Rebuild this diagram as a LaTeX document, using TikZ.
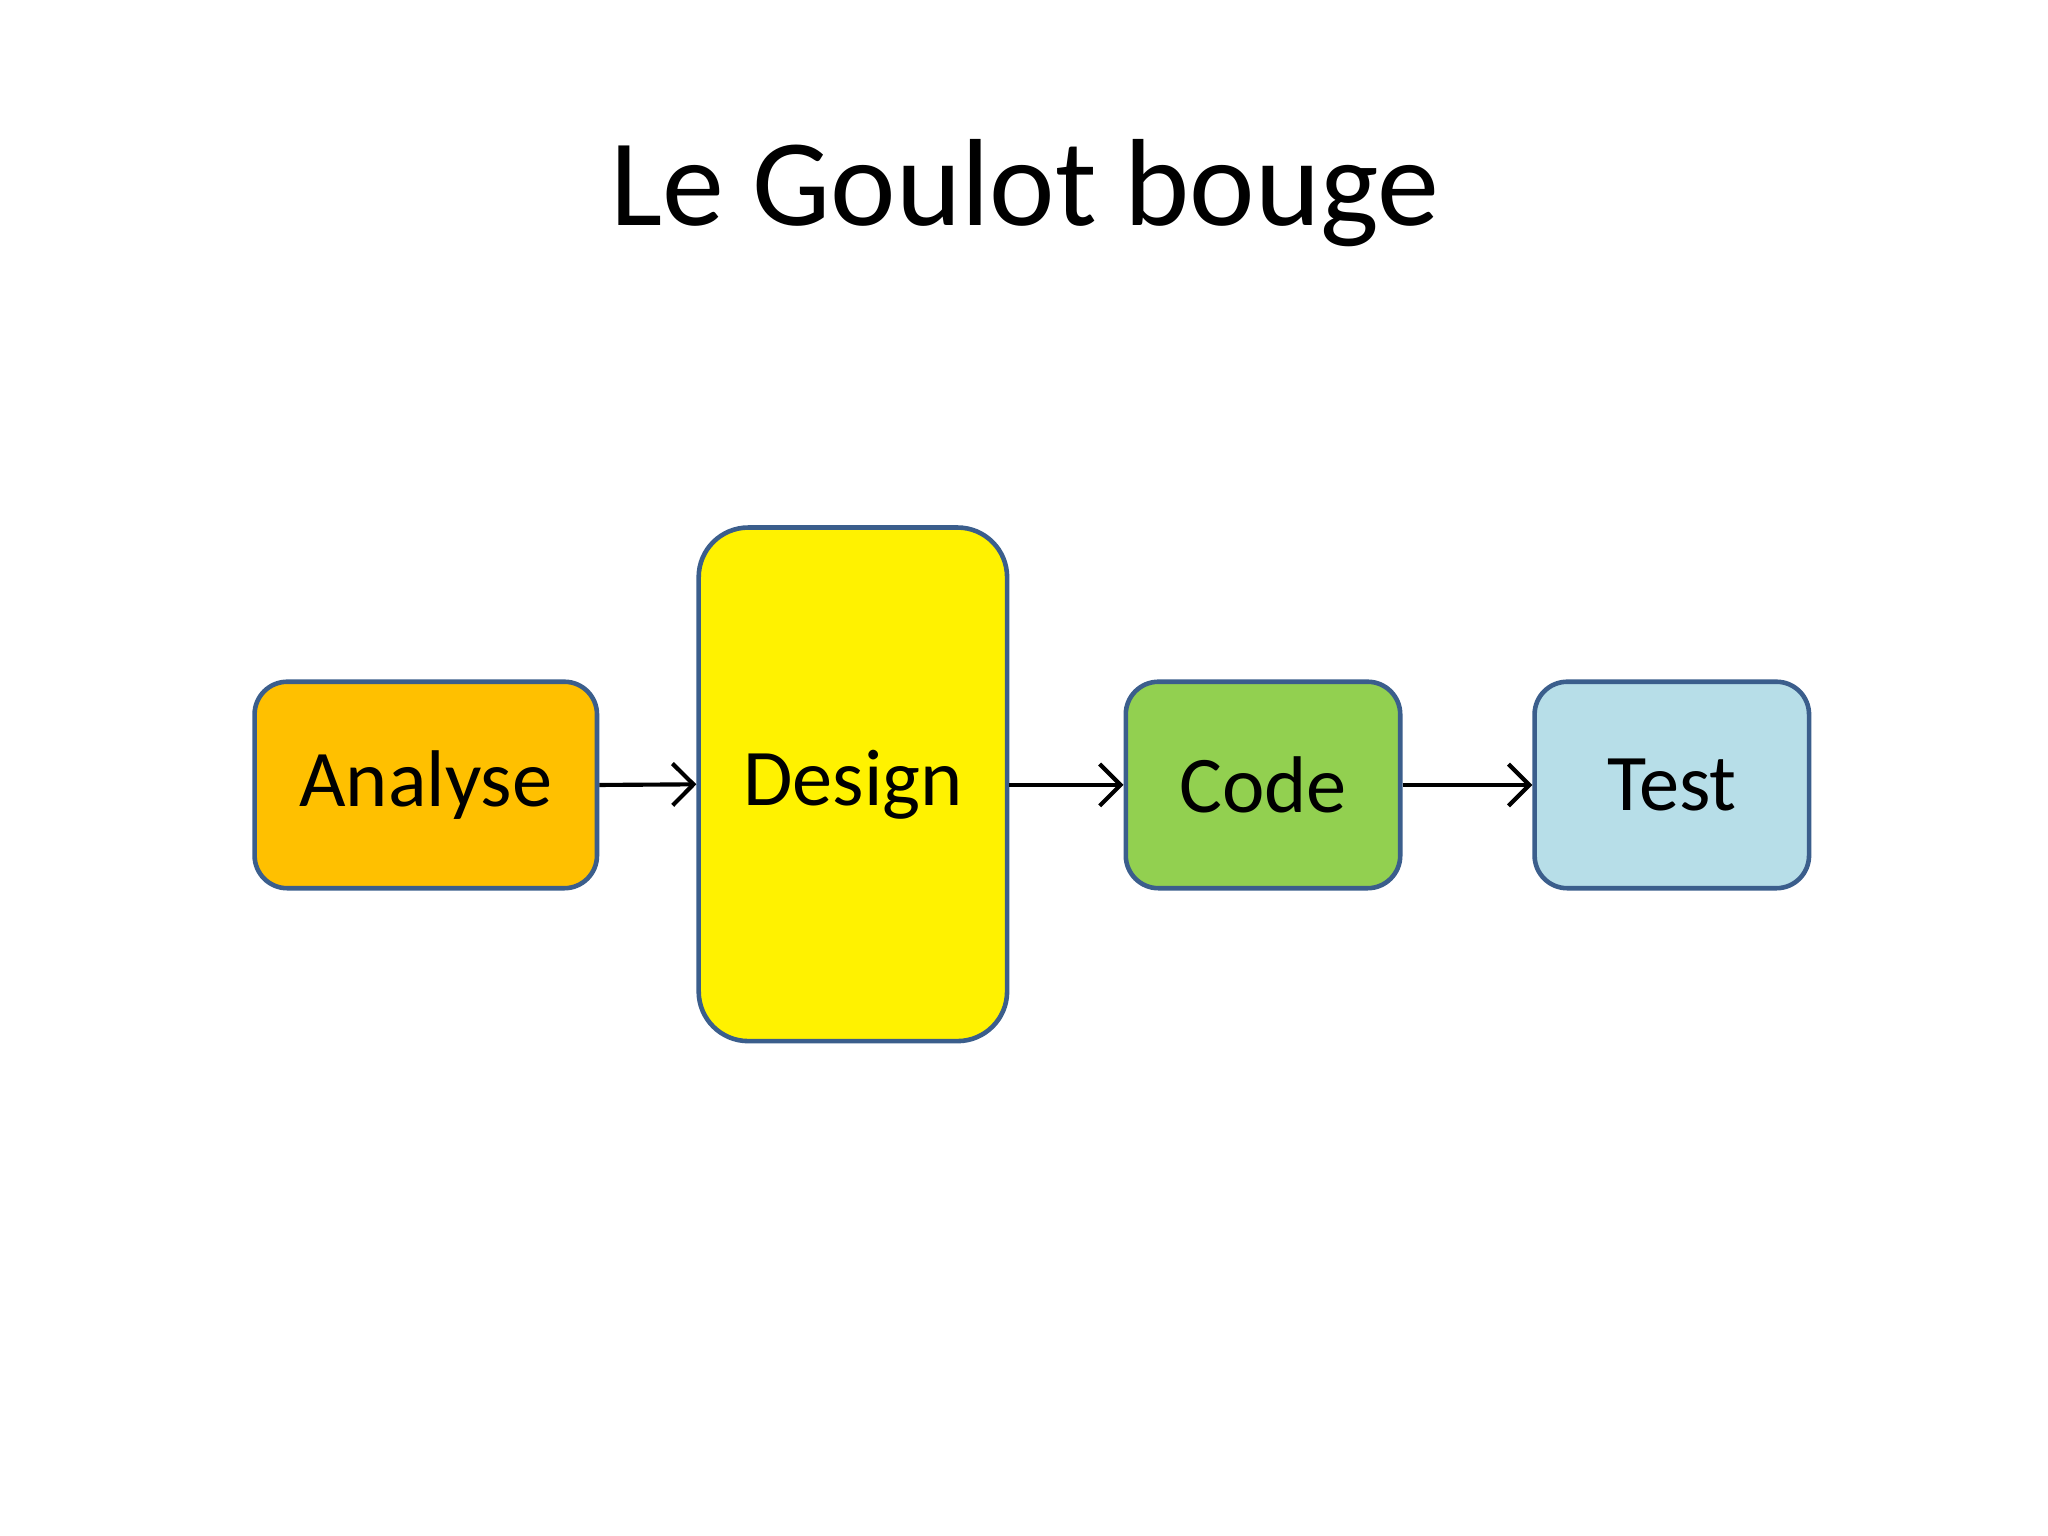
\documentclass[tikz,border=0pt]{standalone}
\usepackage{fontspec}
\setmainfont{Carlito}
\usetikzlibrary{arrows.meta}
\definecolor{bord}{HTML}{3B5E8C}
\tikzset{
 box/.style={draw=bord,line width=1pt,rounded corners=0.25cm,minimum width=2.1cm,minimum height=1.58cm,font=\fontsize{17.5}{20}\selectfont,inner sep=0pt},
 conn/.style={line width=0.9pt,-{Straight Barb[length=1.6mm,width=3.2mm]}}
}
\begin{document}
\begin{tikzpicture}[x=0.01cm,y=-0.01cm]
\useasboundingbox[fill=white] (0,0) rectangle (1568,1176);
\node[font=\fontsize{27}{32}\selectfont] (title) at (785,148) {Le Goulot bouge};
\node[box,fill={rgb,255:red,255;green,192;blue,0},minimum width=2.62cm] (a) at (326,601) {Analyse};
\node[box,fill=yellow,minimum width=2.36cm,minimum height=3.93cm,rounded corners=0.38cm] (d) at (653,600.5) {Design};
\node[box,fill={rgb,255:red,146;green,208;blue,80}] (c) at (967,601) {Code};
\node[box,fill={rgb,255:red,183;green,222;blue,232}] (t) at (1280,601) {Test};
\draw[conn] (a.east) -- (d.west);
\draw[conn] (d.east |- c.west) -- (c.west);
\draw[conn] (c.east) -- (t.west);
\end{tikzpicture}
\end{document}
